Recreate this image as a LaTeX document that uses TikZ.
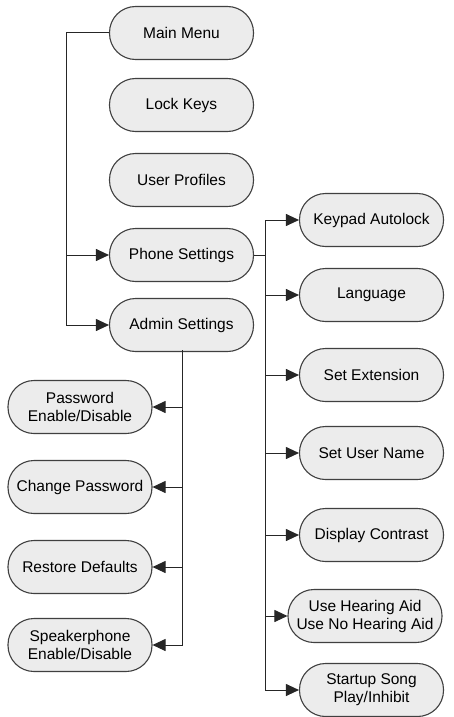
\documentclass[tikz,border=0pt]{standalone}
\usepackage{fontspec}
\setmainfont{Liberation Sans}
\usepackage{tikz}
\usetikzlibrary{arrows.meta}

\begin{document}
\begin{tikzpicture}[x=1pt, y=-1pt,
  menu/.style={draw=black!75, line width=1.1pt, fill=gray!15, rounded corners=26pt,
    minimum width=144pt, minimum height=53pt, inner sep=1pt, align=center,
    font=\fontsize{15.5}{18}\selectfont},
  link/.style={draw=black!85, line width=1pt},
  arr/.style={link, -{Triangle[length=13pt, width=12pt]}}]
\useasboundingbox (0,0) rectangle (454,717);
% main column
\node[menu] (mainmenu) at (181.5,33) {Main Menu};
\node[menu] (lockkeys) at (181.5,105) {Lock Keys};
\node[menu] (profiles) at (181.5,180) {User Profiles};
\node[menu] (phone) at (181.5,255) {Phone Settings};
\node[menu] (admin) at (181.5,325) {Admin Settings};
% phone settings column
\node[menu] (keypad) at (371.5,220) {Keypad Autolock};
\node[menu] (language) at (371.5,295) {Language};
\node[menu] (extension) at (371.5,375) {Set Extension};
\node[menu] (username) at (371.5,453) {Set User Name};
\node[menu] (contrast) at (371.5,535) {Display Contrast};
\node[menu, minimum width=154pt] (hearing) at (365,616) {Use Hearing Aid\\Use No Hearing Aid};
\node[menu] (startup) at (371.5,690) {Startup Song\\Play/Inhibit};
% admin settings column
\node[menu] (password) at (80,407) {Password\\Enable/Disable};
\node[menu] (changepw) at (80,487) {Change Password};
\node[menu] (restore) at (80,567) {Restore Defaults};
\node[menu] (speaker) at (80,645) {Speakerphone\\Enable/Disable};

% left trunk
\coordinate (lt) at (66,33);
\draw[arr] (mainmenu.west) -- (lt) |- (admin);
\draw[arr] (lt |- phone) -- (phone);
% phone trunk
\coordinate (rt) at (265,255);
\draw[link] (phone.east) -- (rt);
\draw[link] (rt |- keypad) -- (rt |- startup);
\foreach \n in {keypad, language, extension, username, contrast, hearing, startup}
  \draw[arr] (rt |- \n) -- (\n);
% admin trunk
\coordinate (at) at (182,350);
\draw[arr] (at) |- (speaker);
\foreach \n in {password, changepw, restore}
  \draw[arr] (at |- \n) -- (\n);
\end{tikzpicture}
\end{document}
